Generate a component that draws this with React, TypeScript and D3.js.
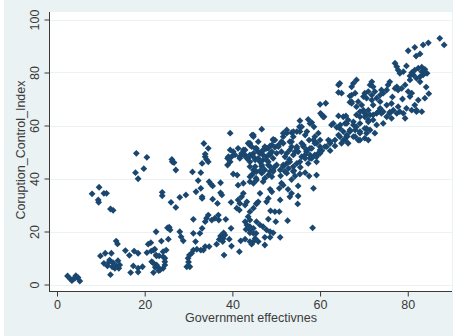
import * as d3 from "d3";
import { useEffect, useRef } from "react";

// Government effectiveness (x) vs corruption control index (y).
const lowLeft: [number, number][] = [
  [2.4, 3.2], [3.1, 2.0], [3.7, 2.0], [4.3, 3.3], [4.8, 2.6], [5.2, 1.3], [3.4, 1.5], [4.1, 2.4],
];

const upperLeft: [number, number][] = [
  [8.0, 34.2], [9.6, 36.7], [10.7, 34.4], [11.3, 34.4], [9.4, 31.9], [9.5, 31.0], [12.2, 28.5], [12.8, 28.0],
  [18.1, 49.5], [20.5, 48.0], [17.9, 42.2], [19.8, 43.7], [18.5, 39.9],
  [24.0, 34.8], [24.0, 33.5], [26.3, 46.3], [26.7, 46.0], [27.1, 43.2], [26.2, 47.2],
];

const bottomCluster: [number, number][] = [
  [13.5, 16.4], [13.8, 15.3], [9.9, 10.8], [11.0, 11.8], [12.4, 11.8], [10.7, 8.0], [11.5, 7.0], [12.0, 9.2],
  [12.8, 8.2], [13.5, 7.0], [14.1, 6.1], [13.2, 6.1], [12.2, 3.7], [14.3, 7.4], [12.6, 6.7], [11.9, 8.5],
  [13.9, 9.0], [15.6, 12.8], [16.5, 11.0], [17.6, 12.6], [18.5, 11.8], [17.4, 7.0], [18.5, 6.2], [19.5, 6.7],
  [16.8, 4.5], [18.5, 4.7], [20.8, 15.2], [21.4, 15.8], [20.5, 12.0], [21.5, 12.6], [22.3, 13.3], [22.6, 11.1],
  [23.3, 10.8], [23.8, 16.4], [21.9, 8.2], [22.4, 6.5], [23.2, 5.2], [24.6, 9.9], [24.6, 7.4], [24.9, 13.0],
  [22.6, 19.9], [25.2, 21.4], [25.4, 17.1], [25.6, 21.6], [22.0, 13.0], [22.7, 10.8], [21.6, 8.6], [23.3, 6.1],
  [22.7, 7.4], [24.2, 6.1], [24.2, 10.5], [24.6, 8.6], [24.2, 12.4], [22.0, 4.5], [23.5, 5.5], [25.8, 20.6],
  [28.0, 19.9],
];

const midLow: [number, number][] = [
  [31.1, 24.6], [28.3, 18.0], [28.8, 16.5], [31.1, 19.3], [31.6, 16.2], [32.6, 19.3], [33.1, 21.2], [33.8, 23.7],
  [34.1, 25.0], [34.5, 26.2], [35.3, 24.3], [36.0, 25.0], [36.8, 26.2], [36.9, 24.3], [38.5, 24.6], [39.7, 21.2],
  [37.3, 18.3], [37.9, 17.4], [38.3, 18.7], [37.8, 16.2], [39.3, 17.1], [36.4, 15.2], [34.7, 14.3], [33.8, 14.3],
  [33.4, 13.0], [32.8, 13.0], [31.9, 13.3], [31.1, 13.0], [30.7, 11.8], [30.2, 11.1], [29.9, 9.9], [29.6, 6.7],
  [30.3, 6.7], [30.0, 8.5], [38.1, 11.1], [39.8, 14.5], [41.6, 12.4], [41.9, 16.5], [42.9, 17.1], [43.1, 20.8],
  [44.4, 15.2], [44.8, 16.2], [44.0, 19.5], [45.4, 19.3], [42.9, 23.7], [43.3, 22.5], [44.0, 21.8], [44.8, 21.2],
  [37.0, 17.0], [38.0, 19.5],
];

const midUpper: [number, number][] = [
  [33.1, 45.7], [33.8, 48.2], [34.1, 47.2], [34.5, 46.3], [30.9, 42.5], [32.8, 42.2], [32.2, 39.2], [34.7, 38.8],
  [35.1, 37.9], [35.5, 37.2], [37.3, 38.4], [31.7, 35.0], [32.8, 36.3], [33.1, 33.1], [33.1, 32.5], [35.5, 32.2],
  [36.6, 30.6], [37.3, 34.6], [37.6, 33.8], [39.7, 31.0], [26.0, 31.0], [27.1, 29.1], [28.0, 32.9], [29.4, 33.8],
  [38.9, 47.6], [39.5, 46.3], [39.8, 48.2], [40.2, 50.1], [38.9, 45.1], [41.1, 41.3], [41.3, 37.5], [40.2, 41.7],
  [41.3, 31.9], [41.7, 30.6], [42.1, 33.1], [42.5, 34.4], [41.0, 28.8], [41.6, 28.1], [42.9, 30.0], [43.3, 31.2],
  [44.0, 27.5], [44.8, 28.8], [43.6, 25.6], [44.0, 24.3], [45.5, 30.6], [42.5, 38.2], [44.0, 38.8], [44.4, 41.3],
  [45.4, 40.1], [44.8, 43.2], [42.6, 48.9], [43.6, 47.6], [44.0, 46.3], [42.5, 50.8], [41.7, 48.2],
  [39.5, 57.1], [44.5, 56.4], [34.5, 51.4], [33.8, 49.2], [33.5, 53.2], [39.5, 50.8], [41.3, 51.4], [44.0, 53.3],
  [45.5, 51.4], [39.1, 48.2], [40.6, 48.9], [42.9, 48.9], [43.3, 47.6],
];

const center: [number, number][] = [
  [52.4, 42.0], [54.3, 40.9], [55.4, 41.7], [56.6, 42.2], [57.5, 40.9], [59.2, 41.3], [58.5, 36.3], [51.2, 38.2],
  [51.6, 37.5], [50.7, 36.3], [52.7, 35.9], [53.5, 34.4], [53.1, 33.1], [55.0, 37.2], [55.0, 33.4], [54.9, 30.4],
  [48.6, 35.9], [49.0, 35.0], [48.2, 32.5], [47.8, 31.2], [50.9, 31.9], [45.5, 30.4], [48.7, 27.8], [49.7, 27.5],
  [50.7, 27.5], [48.2, 24.7], [49.9, 23.7], [52.6, 24.1], [58.3, 21.4], [45.5, 23.7], [46.3, 22.5], [47.0, 21.8],
  [47.8, 20.6], [48.6, 19.9], [49.3, 19.5], [44.0, 20.6], [44.8, 19.3], [45.2, 17.4], [45.9, 16.2], [47.4, 17.8],
  [48.6, 17.8], [50.9, 17.8], [47.4, 14.9], [44.0, 16.2], [44.8, 38.2], [45.5, 39.4], [44.0, 40.7], [44.8, 42.0],
  [44.0, 44.5], [46.3, 34.4], [45.9, 31.2], [47.0, 38.8], [47.4, 40.1], [46.7, 42.0], [48.6, 42.6], [49.3, 43.2],
  [50.1, 45.1], [51.6, 45.1], [52.0, 48.2], [53.0, 47.2], [53.9, 48.9], [55.0, 50.1], [55.8, 48.2], [56.6, 48.9],
  [56.9, 50.1], [58.1, 47.6], [58.8, 48.9], [59.6, 49.5], [60.0, 50.8], [59.2, 46.3], [57.3, 45.7], [44.8, 49.5],
  [45.9, 50.1], [47.0, 48.9], [47.8, 47.0], [46.3, 46.3], [45.2, 47.0], [48.2, 45.1], [46.7, 44.5], [48.6, 48.9],
  [49.0, 50.1], [52.8, 43.8], [54.0, 43.0], [55.5, 44.2], [51.0, 41.0], [53.5, 39.6],
];

const centerUpper: [number, number][] = [
  [64.2, 75.3], [64.2, 72.5], [66.8, 71.1], [66.8, 68.8], [60.0, 68.0], [61.3, 68.4], [60.1, 64.6], [60.9, 63.3],
  [64.2, 63.6], [63.0, 60.8], [65.7, 60.8], [66.4, 62.1], [46.7, 58.6], [55.4, 61.8], [57.3, 62.3], [58.1, 61.1],
  [58.6, 59.5], [55.3, 59.5], [54.7, 57.7], [53.5, 57.3], [52.4, 57.1], [55.4, 57.7], [56.6, 56.4], [44.8, 56.4],
  [51.6, 55.8], [51.2, 53.9], [50.5, 52.6], [49.3, 54.5], [48.6, 52.3], [49.7, 51.8], [47.8, 51.4], [47.0, 50.5],
  [46.3, 49.5], [45.9, 53.9], [44.8, 55.8], [44.0, 52.6], [45.2, 51.4], [51.2, 50.1], [53.5, 52.0], [54.7, 51.4],
  [56.2, 52.6], [57.5, 54.5], [58.1, 51.4], [59.2, 53.3], [60.0, 54.5], [60.4, 50.5], [61.5, 52.0], [62.3, 53.9],
  [63.4, 54.5], [64.2, 56.4], [64.5, 58.9], [65.3, 57.7], [66.1, 55.8], [66.4, 53.3], [63.4, 52.3], [62.3, 50.5],
  [59.2, 48.2], [57.7, 47.6], [53.9, 55.8], [53.1, 53.9], [52.4, 58.3], [49.7, 54.5], [49.3, 54.8],
  [51.6, 53.3], [53.5, 53.9], [53.1, 50.8], [52.4, 49.5], [54.3, 50.1], [54.7, 52.0], [55.8, 53.3], [56.2, 52.0],
  [56.9, 50.8], [57.7, 51.4], [58.5, 54.5], [58.8, 55.8], [59.6, 57.1], [58.8, 53.3], [57.7, 48.9], [56.6, 47.6],
  [55.4, 46.3], [54.7, 45.7], [53.9, 44.5], [53.1, 46.3], [60.0, 49.5], [61.9, 54.5], [62.3, 53.3], [61.1, 52.0],
  [60.0, 52.0], [57.0, 57.7], [55.8, 59.5], [57.7, 60.8], [53.9, 57.7], [51.6, 57.1],
];

const centerLeft: [number, number][] = [
  [43.6, 53.3], [44.4, 52.0], [42.9, 50.8], [42.1, 49.5], [41.7, 47.6], [44.0, 48.9], [44.8, 48.2], [45.9, 47.6],
  [46.3, 49.5], [47.0, 50.8], [47.4, 52.0], [48.2, 51.4], [48.6, 49.5], [47.8, 48.2], [47.0, 47.0], [46.7, 45.1],
  [48.2, 46.3], [49.3, 47.6], [50.1, 49.5], [50.5, 52.0], [49.0, 52.6], [45.2, 44.5], [45.5, 42.6], [46.3, 42.9],
  [47.4, 43.2], [48.6, 44.5], [49.7, 44.5], [49.3, 42.6], [48.2, 41.3], [49.0, 40.7], [50.9, 43.2], [51.6, 44.5],
  [52.4, 45.7], [52.0, 42.6], [53.9, 42.6],
];

const upperRight: [number, number][] = [
  [87.3, 92.9], [88.3, 90.4], [84.7, 91.2], [83.5, 90.4], [81.6, 89.5], [80.1, 88.2], [82.8, 87.0], [81.9, 86.2],
  [77.1, 83.5], [77.5, 82.2], [77.8, 80.9], [78.2, 79.7], [79.0, 80.3], [79.7, 82.5], [80.9, 79.9], [81.6, 80.9],
  [82.4, 81.6], [83.2, 82.0], [83.9, 81.2], [84.4, 79.7], [83.5, 79.1], [82.8, 78.4], [82.0, 77.8], [81.3, 79.1],
  [80.5, 78.7], [83.2, 80.3], [83.9, 79.9], [82.8, 76.5], [80.5, 77.2], [79.4, 75.3], [78.6, 74.0], [77.8, 73.4],
  [77.1, 74.0], [77.5, 74.6], [80.1, 72.8], [80.9, 72.2], [80.5, 70.9], [83.9, 70.3], [82.4, 69.6], [81.6, 67.7],
  [82.0, 65.8], [83.2, 65.2], [80.9, 65.8], [79.7, 66.5], [75.9, 76.5], [75.5, 75.3], [75.2, 73.4], [74.0, 73.4],
  [73.7, 71.5], [74.4, 72.2], [71.8, 76.5], [71.4, 75.3], [72.1, 74.6], [72.5, 72.8], [71.8, 71.5], [71.0, 72.8],
  [70.2, 72.2], [69.9, 70.9], [70.6, 70.3], [71.8, 69.6], [72.9, 70.3], [73.7, 69.0], [68.3, 77.2], [67.6, 75.9],
  [67.2, 74.6], [68.0, 72.2], [64.5, 75.9], [64.9, 72.2], [67.2, 71.5], [67.2, 69.0], [68.7, 69.0], [68.3, 67.1],
  [69.5, 67.7], [69.9, 65.8], [71.0, 65.8], [72.1, 67.7], [73.7, 66.5], [75.2, 67.7], [76.3, 68.3], [76.7, 65.8],
  [77.8, 67.1], [78.2, 65.2], [79.0, 64.6], [75.9, 64.6], [74.4, 65.2], [72.9, 64.6], [71.4, 64.0], [70.2, 64.6],
  [69.1, 65.2], [84.2, 74.5], [84.8, 72.0], [78.8, 70.0], [76.5, 70.8],
];

const rightMid: [number, number][] = [
  [82.0, 65.2], [79.4, 62.7], [77.5, 64.6], [75.9, 65.0], [74.0, 64.6], [74.4, 60.8], [72.5, 57.1], [71.4, 58.3],
  [70.2, 55.2], [69.1, 54.5], [68.0, 55.8], [66.8, 57.7], [66.1, 55.8], [64.9, 53.3], [65.7, 54.5], [64.5, 55.8],
  [67.6, 60.2], [69.1, 60.8], [71.0, 61.4], [72.1, 62.1], [72.9, 60.2], [66.1, 60.8], [65.3, 63.3], [68.3, 64.0],
  [70.2, 63.3], [72.1, 64.0], [73.3, 65.2], [69.1, 57.7], [70.6, 58.9], [68.0, 58.3], [75.2, 63.3], [76.3, 62.7],
  [67.6, 61.4], [69.1, 63.3], [69.9, 65.2], [70.6, 64.0], [71.0, 62.1], [68.3, 59.5], [70.2, 58.9], [69.1, 57.1],
  [70.6, 57.1], [66.8, 58.3], [67.6, 55.8], [68.7, 54.5], [71.0, 54.5], [65.3, 54.5], [66.1, 56.4], [62.6, 60.2],
  [63.8, 59.3], [64.6, 60.2], [65.9, 63.6], [67.2, 68.4], [60.4, 64.0], [60.7, 63.3],
];

const xTicks = [0, 20, 40, 60, 80];
const yTicks = [0, 20, 40, 60, 80, 100];

const points = [
  ...lowLeft, ...upperLeft, ...bottomCluster, ...midLow, ...midUpper,
  ...center, ...centerUpper, ...centerLeft, ...upperRight, ...rightMid,
];

const W = 458;
const H = 336;
const BG = "#eaf2f3";
const MARK = "#1a476f";
const INK = "#3a3a3a";
const FONT = "'Liberation Sans', Arial, sans-serif";
const FS = 12.5;

export default function App() {
  const svgRef = useRef<SVGSVGElement>(null);

  useEffect(() => {
    if (!svgRef.current) return;
    const svg = d3.select(svgRef.current);
    svg.selectAll("*").remove();

    const plot = { left: 50, right: 452, top: 12, bottom: 292 };
    const x = d3.scaleLinear().domain([0, 90]).range([57, 451.6]);
    const y = d3.scaleLinear().domain([0, 100]).range([284.5, 19.5]);

    svg.append("rect").attr("width", W).attr("height", H).attr("fill", "#ffffff");
    svg.append("rect").attr("x", 4).attr("width", 449).attr("height", H).attr("fill", BG);
    svg
      .append("rect")
      .attr("x", plot.left)
      .attr("y", plot.top)
      .attr("width", plot.right - plot.left)
      .attr("height", plot.bottom - plot.top)
      .attr("fill", "#ffffff");

    // horizontal grid lines
    svg
      .append("g")
      .selectAll("line")
      .data(yTicks)
      .enter()
      .append("line")
      .attr("x1", plot.left)
      .attr("x2", plot.right)
      .attr("y1", (d) => Math.round(y(d)) + 0.5)
      .attr("y2", (d) => Math.round(y(d)) + 0.5)
      .attr("stroke", BG)
      .attr("stroke-width", 1);

    const diamond = "M0,-3.4L3.4,0L0,3.4L-3.4,0Z";
    svg
      .append("g")
      .selectAll("path")
      .data(points)
      .enter()
      .append("path")
      .attr("d", diamond)
      .attr("transform", (d) => `translate(${x(d[0])},${y(d[1])})`)
      .attr("fill", MARK);

    // axes
    const yAxis = svg
      .append("g")
      .attr("transform", `translate(${plot.left - 0.5},0)`)
      .call(d3.axisLeft(y).tickValues(yTicks).tickSize(5).tickSizeOuter(0).tickFormat((d) => String(d)));
    yAxis.select("path.domain").attr("d", `M0,${plot.top}V${plot.bottom}`).attr("stroke", INK);
    yAxis.selectAll("line").attr("stroke", INK);
    yAxis
      .selectAll("text")
      .attr("font-family", FONT)
      .attr("font-size", FS)
      .attr("fill", INK)
      .attr("x", null)
      .attr("dy", null)
      .attr("text-anchor", "middle")
      .attr("transform", "translate(-10.5,0) rotate(-90)");

    const xAxis = svg
      .append("g")
      .attr("transform", `translate(0,${plot.bottom - 0.5})`)
      .call(d3.axisBottom(x).tickValues(xTicks).tickSize(5).tickSizeOuter(0).tickFormat((d) => String(d)));
    xAxis.select("path.domain").attr("d", `M${plot.left},0H${plot.right}`).attr("stroke", INK);
    xAxis.selectAll("line").attr("stroke", INK);
    xAxis
      .selectAll("text")
      .attr("font-family", FONT)
      .attr("font-size", FS)
      .attr("fill", INK)
      .attr("y", 9);

    svg
      .append("text")
      .attr("x", (plot.left + plot.right) / 2)
      .attr("y", 322)
      .attr("text-anchor", "middle")
      .attr("font-family", FONT)
      .attr("font-size", FS)
      .attr("fill", INK)
      .text("Government effectivnes");
    svg
      .append("text")
      .attr("transform", `translate(25,${(plot.top + plot.bottom) / 2 - 2}) rotate(-90)`)
      .attr("text-anchor", "middle")
      .attr("font-family", FONT)
      .attr("font-size", FS)
      .attr("fill", INK)
      .text("Coruption_Control_Index");
  }, []);

  return (
    <svg
      ref={svgRef}
      width={W}
      height={H}
      style={{ position: "fixed", left: 0, top: 0, display: "block" }}
    />
  );
}
